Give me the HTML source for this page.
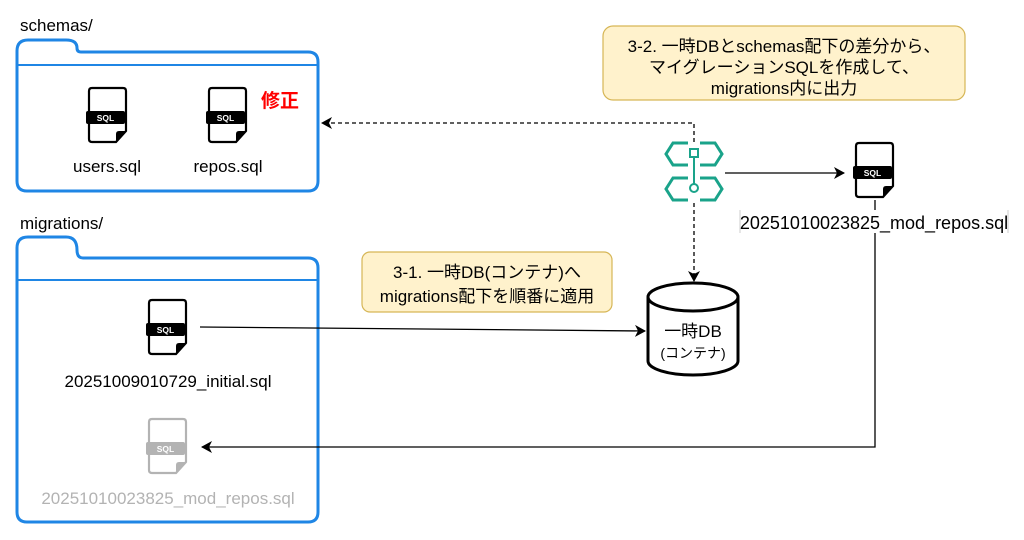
<!DOCTYPE html>
<html><head><meta charset="utf-8"><style>
html,body{margin:0;padding:0;background:#fff;}
svg{display:block;font-family:"Liberation Sans","Noto Sans CJK JP",sans-serif;}
</style></head><body>
<svg width="1024" height="540" viewBox="0 0 1024 540" xmlns="http://www.w3.org/2000/svg">
<defs>
<marker id="ah" markerWidth="12" markerHeight="12" refX="10" refY="6" orient="auto" markerUnits="userSpaceOnUse">
<path d="M0,0 L11,6 L0,12 L3,6 Z" fill="#000"/>
</marker>
<g id="sql">
<path d="M5,1 H36 Q39,1 39,4 V44 L29,55 H5 Q2,55 2,52 V4 Q2,1 5,1 Z" fill="#fff" stroke="currentColor" stroke-width="2.2"/>
<path d="M39,44 L29,55 V47 Q29,44 32,44 Z" fill="currentColor"/>
<rect x="-1" y="24" width="39" height="13" rx="2" fill="currentColor"/>
<text x="18.5" y="34" font-size="8.5" font-weight="bold" fill="#fff" text-anchor="middle">SQL</text>
</g>
</defs>

<!-- folder 1 -->
<text x="20" y="31" font-size="17">schemas/</text>
<path d="M17,54 V51 Q17,40 28,40 H66 Q77,40 77,48 Q77,52 81,52 H308 Q318,52 318,62 V181 Q318,191 308,191 H27 Q17,191 17,181 Z" fill="none" stroke="#1f86e5" stroke-width="3"/>
<line x1="17" y1="65" x2="318" y2="65" stroke="#1f86e5" stroke-width="2"/>
<use href="#sql" x="87" y="87" style="color:#000"/>
<use href="#sql" x="207" y="87" style="color:#000"/>
<text x="107" y="172" font-size="17" text-anchor="middle">users.sql</text>
<text x="228" y="172" font-size="17" text-anchor="middle">repos.sql</text>
<text x="280" y="107" font-size="19" font-weight="bold" fill="#ff0000" text-anchor="middle">修正</text>

<!-- folder 2 -->
<text x="20" y="229" font-size="17">migrations/</text>
<path d="M17,262 V248 Q17,237 28,237 H66 Q77,237 77,250 Q77,258 83,258 H308 Q318,258 318,268 V512 Q318,522 308,522 H27 Q17,522 17,512 Z" fill="none" stroke="#1f86e5" stroke-width="3"/>
<line x1="17" y1="280" x2="318" y2="280" stroke="#1f86e5" stroke-width="2"/>
<use href="#sql" x="147" y="299" style="color:#000"/>
<text x="168" y="387" font-size="17" text-anchor="middle">20251009010729_initial.sql</text>
<use href="#sql" x="147" y="418" style="color:#b3b3b3"/>
<text x="168" y="504" font-size="17" text-anchor="middle" fill="#b3b3b3">20251010023825_mod_repos.sql</text>

<!-- yellow note 1 -->
<rect x="603" y="26" width="362" height="74" rx="10" fill="#fff2cc" stroke="#d6b656" stroke-width="1.2"/>
<text font-size="17" text-anchor="middle"><tspan x="784" y="52">3-2. 一時DBとschemas配下の差分から、</tspan><tspan x="784" y="73">マイグレーションSQLを作成して、</tspan><tspan x="784" y="94">migrations内に出力</tspan></text>

<!-- yellow note 2 -->
<rect x="362" y="252" width="250" height="60" rx="8" fill="#fff2cc" stroke="#d6b656" stroke-width="1.2"/>
<text font-size="17" text-anchor="middle"><tspan x="487" y="278">3-1. 一時DB(コンテナ)へ</tspan><tspan x="487" y="302">migrations配下を順番に適用</tspan></text>

<!-- connectors -->
<path d="M694,142 V123 H322" fill="none" stroke="#000" stroke-width="1.3" stroke-dasharray="4,3" marker-end="url(#ah)"/>
<path d="M694,203 V281" fill="none" stroke="#000" stroke-width="1.3" stroke-dasharray="4,3" marker-end="url(#ah)"/>
<path d="M725,173 H844" fill="none" stroke="#000" stroke-width="1.3" marker-end="url(#ah)"/>
<path d="M200,327 L645,331" fill="none" stroke="#000" stroke-width="1.3" marker-end="url(#ah)"/>
<path d="M875,200 V447 H202" fill="none" stroke="#000" stroke-width="1.3" marker-end="url(#ah)"/>

<!-- teal icon -->
<g fill="none" stroke="#1aa38a" stroke-width="3">
<path d="M688,143 H673 L666,154 L673,165 H688 M700,143 H715 L722,154 L715,165 H700"/>
<path d="M688,178 H673 L666,189 L673,200 H688 M700,178 H715 L722,189 L715,200 H700"/>
<rect x="690" y="149" width="8" height="8" stroke-width="2"/>
<line x1="694" y1="157" x2="694" y2="184" stroke-width="2"/>
<circle cx="694" cy="188" r="4" stroke-width="2"/>
</g>

<!-- right sql -->
<use href="#sql" x="854" y="142" style="color:#000"/>
<rect x="740" y="210" width="268" height="23" fill="#fff"/>
<line x1="740" y1="210" x2="740" y2="233" stroke="#ccc"/>
<line x1="1008" y1="210" x2="1008" y2="233" stroke="#ccc"/>
<text x="874" y="229" font-size="18" text-anchor="middle">20251010023825_mod_repos.sql</text>

<!-- cylinder -->
<path d="M648,297 V361 A45,14 0 0 0 738,361 V297" fill="#fff" stroke="#000" stroke-width="3"/>
<ellipse cx="693" cy="297" rx="45" ry="14" fill="#fff" stroke="#000" stroke-width="3"/>
<text x="693" y="337" font-size="17" text-anchor="middle">一時DB</text>
<text x="693" y="358" font-size="14" text-anchor="middle">(コンテナ)</text>
</svg>
</body></html>
